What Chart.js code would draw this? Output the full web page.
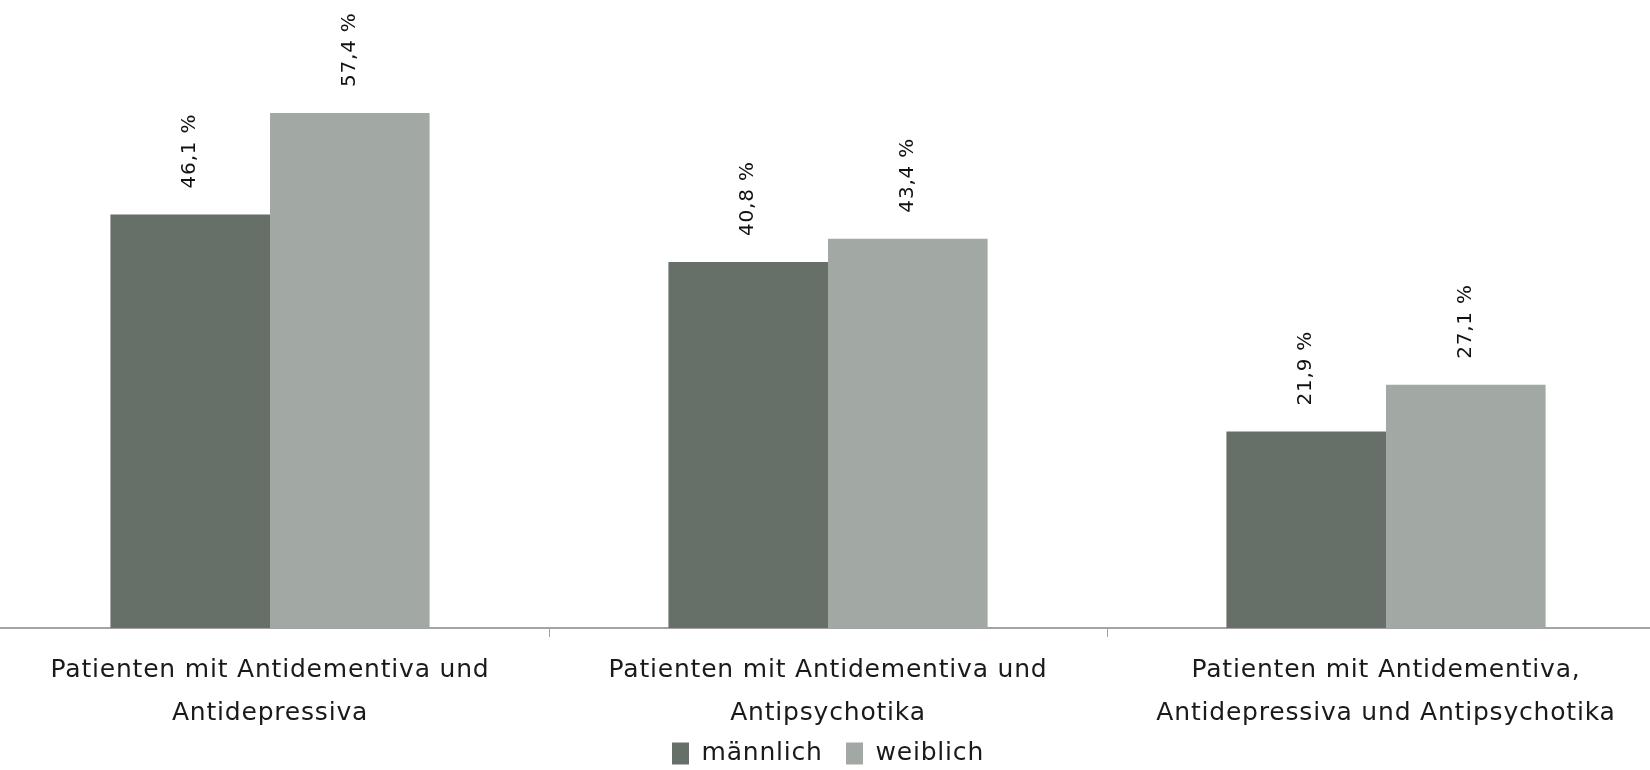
<!DOCTYPE html>
<html>
<head>
<meta charset="utf-8">
<script src="https://cdn.jsdelivr.net/npm/chart.js@4/dist/chart.umd.min.js"></script>
<style>
  html, body { margin: 0; padding: 0; background: #fff; overflow: hidden; }
  body { width: 1650px; height: 770px; position: relative; }
  #wrap { position: absolute; left: -9px; top: 0; width: 1674px; height: 776px; }
</style>
</head>
<body>
<div id="wrap"><canvas id="grafico"></canvas></div>
<script>
// Dados do gráfico
const kategorien = [
    ["Patienten mit Antidementiva und", "Antidepressiva"],
    ["Patienten mit Antidementiva und", "Antipsychotika"],
    ["Patienten mit Antidementiva,", "Antidepressiva und Antipsychotika"]
];
const maennlich = [46.1, 40.8, 21.9];
const weiblich = [57.4, 43.4, 27.1];
const serienNamen = ["männlich", "weiblich"];

const schrift = "'DejaVu Sans', sans-serif";

// Espaçamento entre letras (a fonte original é mais espaçada)
const buchstabenAbstand = {
    id: 'buchstabenAbstand',
    beforeLayout(chart) { chart.ctx.letterSpacing = '0.8px'; },
    beforeDraw(chart) { chart.ctx.letterSpacing = '0.8px'; }
};

// Plugin simples para escrever os valores acima das barras (rotacionados)
const wertLabels = {
    id: 'wertLabels',
    afterDatasetsDraw(chart) {
        const ctx = chart.ctx;
        chart.data.datasets.forEach((ds, i) => {
            const meta = chart.getDatasetMeta(i);
            meta.data.forEach((bar, j) => {
                const txt = ds.data[j].toFixed(1).replace('.', ',') + ' %';
                ctx.save();
                ctx.translate(bar.x, bar.y - 26);
                ctx.rotate(-Math.PI / 2);
                ctx.font = '20px ' + schrift;
                ctx.fillStyle = '#111';
                ctx.textAlign = 'left';
                ctx.textBaseline = 'middle';
                ctx.fillText(txt, 0, 0);
                ctx.restore();
            });
        });
    }
};

new Chart(document.getElementById('grafico'), {
    type: 'bar',
    data: {
        labels: kategorien,
        datasets: [{
            label: serienNamen[0],
            data: maennlich,
            backgroundColor: '#677068',
            categoryPercentage: 0.572,
            barPercentage: 1.0
        }, {
            label: serienNamen[1],
            data: weiblich,
            backgroundColor: '#a2a8a3',
            categoryPercentage: 0.572,
            barPercentage: 1.0
        }]
    },
    options: {
        responsive: true,
        maintainAspectRatio: false,
        animation: false,
        layout: { padding: 0 },
        scales: {
            x: {
                border: { display: true, color: '#a3a3a3', width: 2 },
                grid: {
                    display: true,
                    drawOnChartArea: false,
                    drawTicks: true,
                    tickLength: 9,
                    color: '#a3a3a3',
                    lineWidth: 1
                },
                ticks: {
                    color: '#1a1a1a',
                    padding: 12,
                    maxRotation: 0,
                    autoSkip: false,
                    font: { family: schrift, size: 25, lineHeight: 1.72 }
                },
                // legenda mais perto dos rótulos
                afterFit(scale) { scale.height -= 6; }
            },
            y: {
                display: false,
                min: 0,
                max: 70
            }
        },
        plugins: {
            legend: {
                position: 'bottom',
                labels: {
                    color: '#1a1a1a',
                    boxWidth: 17,
                    boxHeight: 22,
                    padding: 0,
                    font: { family: schrift, size: 25 },
                    // espaço extra depois do primeiro item
                    generateLabels(chart) {
                        const items = Chart.defaults.plugins.legend.labels.generateLabels(chart);
                        items[0].text += '  \u2009';
                        return items;
                    }
                }
            },
            tooltip: { enabled: false }
        }
    },
    plugins: [buchstabenAbstand, wertLabels]
});
</script>
</body>
</html>
